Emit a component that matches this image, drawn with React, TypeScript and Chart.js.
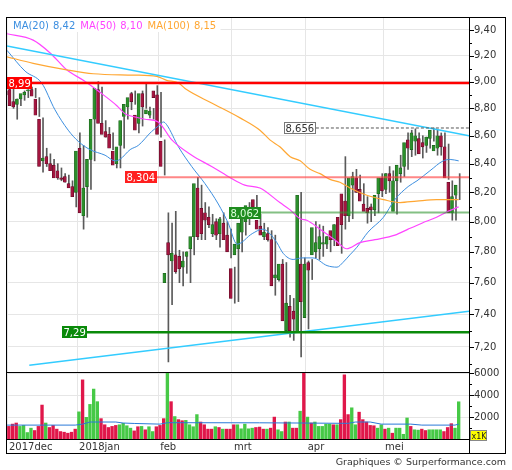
import React, { useEffect, useRef } from "react";
import { Chart, registerables } from "chart.js";

Chart.register(...registerables);

// ---------- data (Dec 2017 – May 2018, one entry per trading day) ----------
const opens = [
  8.93, 8.94, 8.85, 8.83, 8.87, 8.90, 8.93, 8.94, 8.87, 8.72,
  8.42, 8.45, 8.40, 8.39, 8.35, 8.30, 8.31, 8.26, 8.24, 8.20,
  8.51, 8.04, 8.24, 8.43, 8.72, 8.94, 8.69, 8.63, 8.61, 8.49,
  8.40, 8.53, 8.74, 8.81, 8.91, 8.75, 8.69, 8.91, 8.76, 8.75,
  8.93, 8.90, 8.56, 7.60, 7.86, 7.74, 7.78, 7.77, 7.70, 7.77,
  7.82, 7.90, 8.23, 8.09, 8.06, 8.03, 7.92, 8.00, 7.92, 7.99,
  7.91, 7.69, 7.78, 7.82, 7.93, 8.00, 8.05, 8.15, 8.01, 7.97,
  7.90, 7.92, 7.88, 7.63, 7.62, 7.72, 7.30, 7.45, 7.42, 7.29,
  7.72, 7.38, 7.73, 7.78, 7.80, 7.82, 7.85, 7.85, 7.94, 7.88,
  8.03, 8.19, 8.14, 8.04, 8.25, 8.30, 8.22, 8.12, 8.09, 8.10,
  8.08, 8.19, 8.30, 8.22, 8.33, 8.07, 8.28, 8.33, 8.38, 8.57,
  8.50, 8.56, 8.58, 8.55, 8.53, 8.58, 8.49, 8.51, 8.60, 8.52,
  8.27, 8.06, 8.18,
];
const highs = [
  8.97, 8.97, 8.87, 8.89, 8.93, 8.94, 8.96, 8.95, 8.88, 8.73,
  8.51, 8.47, 8.43, 8.40, 8.37, 8.33, 8.32, 8.28, 8.26, 8.62,
  8.53, 8.25, 8.46, 8.79, 9.00, 8.96, 8.71, 8.66, 8.62, 8.51,
  8.54, 8.74, 8.86, 8.92, 8.93, 8.79, 8.93, 8.98, 8.81, 8.80,
  8.97, 8.92, 8.57, 8.06, 7.99, 8.07, 7.81, 7.80, 7.80, 7.87,
  8.00, 8.304, 8.25, 8.13, 8.10, 8.05, 8.02, 8.03, 8.06, 8.00,
  7.95, 7.70, 7.87, 8.02, 8.07, 8.13, 8.13, 8.18, 8.05, 7.99,
  7.96, 7.94, 7.91, 7.67, 7.75, 7.73, 7.52, 7.50, 7.44, 8.20,
  7.76, 7.74, 7.75, 8.00, 7.98, 7.97, 7.90, 7.93, 7.98, 8.02,
  8.05, 8.45, 8.18, 8.34, 8.36, 8.32, 8.26, 8.17, 8.12, 8.17,
  8.24, 8.33, 8.33, 8.38, 8.35, 8.30, 8.46, 8.40, 8.62, 8.64,
  8.65, 8.62, 8.60, 8.59, 8.62, 8.656, 8.64, 8.62, 8.62, 8.54,
  8.28, 8.19, 8.33,
];
const lows = [
  8.87, 8.80, 8.72, 8.82, 8.86, 8.88, 8.90, 8.88, 8.74, 8.34,
  8.38, 8.36, 8.33, 8.29, 8.28, 8.27, 8.26, 8.21, 8.10, 8.18,
  7.95, 8.03, 8.22, 8.42, 8.70, 8.67, 8.59, 8.57, 8.50, 8.37,
  8.37, 8.51, 8.72, 8.79, 8.83, 8.62, 8.67, 8.80, 8.73, 8.72,
  8.78, 8.59, 8.32, 7.11, 7.46, 7.66, 7.60, 7.58, 7.66, 7.60,
  7.78, 7.88, 7.88, 7.88, 7.96, 7.90, 7.88, 7.83, 7.90, 7.84,
  7.76, 7.47, 7.48, 7.80, 7.91, 7.98, 8.03, 8.04, 7.92, 7.88,
  7.87, 7.85, 7.52, 7.61, 7.60, 7.30, 7.26, 7.24, 7.35, 7.14,
  7.46, 7.31, 7.62, 7.76, 7.75, 7.77, 7.82, 7.80, 7.84, 7.86,
  7.79, 7.95, 8.00, 8.02, 8.20, 8.18, 8.12, 7.99, 8.00, 8.04,
  8.06, 8.17, 8.19, 8.20, 8.24, 8.05, 8.27, 8.31, 8.36, 8.45,
  8.46, 8.50, 8.44, 8.48, 8.51, 8.56, 8.46, 8.46, 8.48, 8.29,
  8.01, 8.01, 8.15,
];
const closes = [
  8.90, 8.82, 8.81, 8.87, 8.91, 8.92, 8.935, 8.89, 8.75, 8.38,
  8.44, 8.40, 8.35, 8.30, 8.30, 8.29, 8.27, 8.23, 8.17, 8.49,
  8.06, 8.23, 8.43, 8.72, 8.95, 8.69, 8.61, 8.59, 8.51, 8.39,
  8.52, 8.71, 8.83, 8.88, 8.85, 8.64, 8.91, 8.81, 8.79, 8.78,
  8.88, 8.61, 8.38, 7.66, 7.78, 7.79, 7.67, 7.69, 7.74, 7.80,
  7.90, 8.26, 7.90, 7.92, 8.01, 7.98, 7.98, 7.91, 8.02, 7.88,
  7.80, 7.50, 7.85, 7.99, 8.05, 8.11, 8.09, 8.10, 7.95, 7.91,
  7.93, 7.88, 7.58, 7.65, 7.72, 7.36, 7.47, 7.30, 7.37, 8.18,
  7.48, 7.72, 7.68, 7.96, 7.86, 7.90, 7.86, 7.90, 7.88, 7.98,
  7.84, 7.98, 8.04, 8.30, 8.31, 8.20, 8.14, 8.07, 8.06, 8.08,
  8.18, 8.30, 8.21, 8.33, 8.28, 8.28, 8.39, 8.37, 8.55, 8.51,
  8.62, 8.60, 8.47, 8.52, 8.59, 8.64, 8.53, 8.60, 8.52, 8.30,
  8.06, 8.17, 8.25,
];
// volume in thousands of shares
const volumes = [
  1150, 1360, 1460, 1150, 1240, 590, 990, 775, 1150, 3100,
  1460, 1050, 1240, 900, 680, 620, 530, 620, 900, 2480,
  5400, 1980, 3160, 4560, 3410, 1860, 1300, 1050, 1150, 1240,
  1300, 1430, 1210, 990, 740, 1120, 1150, 840, 1120, 680,
  1120, 1240, 1860, 6300, 3410, 2050, 1770, 1670, 1700, 1300,
  1120, 2230, 1550, 1300, 900, 900, 1120, 1050, 900, 900,
  900, 1300, 1300, 930, 1360, 930, 990, 1050, 1090, 900,
  900, 990, 2000, 840, 680, 1550, 1550, 990, 990, 2540,
  6000, 2000, 1460, 1550, 1150, 1150, 1360, 1360, 1300, 1300,
  1770, 5860, 2230, 2850, 1300, 2450, 1770, 1550, 1240, 1210,
  990, 1300, 900, 990, 530, 990, 990, 430, 1920, 1150,
  840, 810, 900, 775, 840, 840, 840, 840, 680, 1050,
  1400, 990, 3400,
];

// month starts (trading-day index) and their labels
const monthStartIndex = [0, 19, 41, 61, 81, 102];
const monthLabels = ["2017dec", "2018jan", "feb", "mrt", "apr", "mei"];

// axis ticks
const priceTicks = [
  7.1, 7.2, 7.3, 7.4, 7.5, 7.6, 7.7, 7.8, 7.9, 8.0, 8.1, 8.2, 8.3,
  8.4, 8.5, 8.6, 8.7, 8.8, 8.9, 9.0, 9.1, 9.2, 9.3, 9.4, 9.5,
];
const volumeTicks = [1000, 2000, 3000, 4000, 5000, 6000];

// moving averages (index, value)
const ma20X = [-0.5, 4.4, 8.9, 12.5, 16.1, 18.8, 22, 26.1, 28.8, 30.1, 32.9, 35.1, 38.7, 41, 41.9, 42.8, 46, 49.6, 53.2, 56.8, 59.5, 61.9, 66, 68.9, 70.8, 72.7, 74.4, 77.1, 79.5, 82.5, 86.3, 89, 90.6, 92.5, 94.4, 97.4, 101.6, 104.7, 108.3, 110.7, 114.2, 117.8, 119.7, 122];
const ma20Y = [9.24, 9.08, 8.99, 8.79, 8.64, 8.56, 8.50, 8.46, 8.42, 8.43, 8.50, 8.53, 8.63, 8.68, 8.70, 8.68, 8.52, 8.38, 8.26, 8.12, 7.99, 7.85, 7.92, 7.95, 7.92, 7.86, 7.79, 7.75, 7.76, 7.76, 7.71, 7.70, 7.73, 7.78, 7.83, 7.93, 8.03, 8.15, 8.24, 8.28, 8.35, 8.42, 8.43, 8.42];
const ma50X = [-0.5, 6.6, 11.2, 15.7, 20.2, 24.7, 29.3, 31.5, 33.7, 36.9, 40.5, 44.2, 49.6, 55, 59.5, 64, 68.1, 73.5, 76.3, 79, 80.8, 84.4, 88.9, 91.6, 95.2, 99.3, 104.7, 108.3, 112, 116, 119.1, 122];
const ma50Y = [9.37, 9.32, 9.22, 9.09, 9.01, 8.92, 8.82, 8.76, 8.74, 8.72, 8.70, 8.57, 8.46, 8.38, 8.31, 8.25, 8.23, 8.13, 8.08, 8.02, 8.01, 7.95, 7.87, 7.82, 7.86, 7.88, 7.91, 7.95, 7.99, 8.03, 8.07, 8.10];
const ma100X = [-0.5, 6.6, 15.7, 22.9, 33.8, 40.1, 42.8, 46, 48.2, 55, 62.7, 68.1, 70.8, 73.5, 76.3, 79, 81.7, 84.4, 87.1, 89.8, 92.5, 97.1, 101.6, 106.1, 110.6, 116, 122];
const ma100Y = [9.19, 9.14, 9.09, 9.06, 9.05, 9.04, 9.01, 8.99, 8.94, 8.84, 8.73, 8.64, 8.57, 8.52, 8.45, 8.42, 8.36, 8.33, 8.29, 8.27, 8.23, 8.18, 8.15, 8.13, 8.14, 8.15, 8.15];
const volMaX = [-0.5, 18, 20, 22, 29, 31, 34, 41, 43, 68, 79, 92, 94, 98, 101, 109, 112, 121, 122];
const volMaY = [1270, 1270, 1360, 1550, 1550, 1460, 1420, 1360, 1490, 1480, 1460, 1430, 1550, 1550, 1360, 1360, 1270, 1270, 1360];

// trend lines (index, price)
const upperTrendX = [-0.5, 124.8];
const upperTrendY = [9.275, 8.6];
const lowerTrendX = [5.55, 124.8];
const lowerTrendY = [7.09, 7.42];

// horizontal support / resistance levels
const levelValues = [8.99, 8.304, 8.062, 7.29, 8.656];
const levelStartIndex = [-0.5, 31.5, 59.7, 14.4, 74.6];

// ---------- styles ----------
const FONT = '10px "DejaVu Sans"';
const RED_BODY = "#a3153f";
const GREEN_BODY = "#2b8f2b";
const RED_VOL = "#e0174a";
const GREEN_VOL = "#46c946";
const MA_COLORS = ["#3d8fe0", "#ff44ff", "#ffa733"];
const levelStyles = [
  { line: "#ff0000", width: 2.5, box: "#ff0000", text: "#ffffff" },
  { line: "rgba(255,70,70,0.65)", width: 2, box: "#ff1f1f", text: "#ffffff" },
  { line: "rgba(50,150,50,0.6)", width: 2, box: "#1e8c1e", text: "#dcffdc" },
  { line: "#0a8a0a", width: 2.5, box: "#0a8a0a", text: "#ffffff" },
  { line: "#555555", width: 1, dash: [3, 2], box: "#ffffff", text: "#333333", border: "#777777" },
];

const comma = (s: string) => s.replace(".", ",");
const isMajorPrice = (v: number) => Math.abs(v * 5 - Math.round(v * 5)) < 1e-6;
const pts = (xs: number[], ys: number[]) => xs.map((x, i) => ({ x, y: ys[i] }));

const panelClip = {
  id: "panelClip",
  beforeDatasetDraw(chart: any, args: any) {
    const ds = chart.data.datasets[args.index];
    const sc = chart.scales[ds.yAxisID || "y"];
    const ca = chart.chartArea;
    const ctx = chart.ctx;
    ctx.save();
    ctx.beginPath();
    ctx.rect(ca.left, sc.top, ca.right - ca.left, sc.bottom - sc.top);
    ctx.clip();
  },
  afterDatasetDraw(chart: any) {
    chart.ctx.restore();
  },
};

const overlay = {
  id: "overlay",
  beforeDraw(chart: any) {
    const ctx = chart.ctx;
    ctx.save();
    ctx.fillStyle = "#ffffff";
    ctx.fillRect(0, 0, chart.width, chart.height);
    ctx.restore();
  },
  afterDatasetsDraw(chart: any) {
    const ctx = chart.ctx;
    const xs = chart.scales.x;
    const ys = chart.scales.y;
    ctx.save();
    ctx.font = FONT;
    levelValues.forEach((v, i) => {
      const st: any = levelStyles[i];
      const py = ys.getPixelForValue(v);
      const px0 = Math.max(xs.getPixelForValue(levelStartIndex[i]), xs.left - 1);
      const label = comma(String(v));
      const tw = ctx.measureText(label).width;
      const bw = Math.round(tw + 3);
      const bh = 12;
      ctx.save();
      ctx.beginPath();
      ctx.rect(xs.left, ys.top, xs.right - xs.left, ys.bottom - ys.top);
      ctx.clip();
      ctx.strokeStyle = st.line;
      ctx.lineWidth = st.width;
      ctx.setLineDash(st.dash || []);
      ctx.beginPath();
      ctx.moveTo(px0 + bw, py);
      ctx.lineTo(xs.right, py);
      ctx.stroke();
      ctx.restore();
      const by = Math.round(py - bh / 2);
      ctx.fillStyle = st.box;
      ctx.fillRect(Math.round(px0), by, bw, bh);
      if (st.border) {
        ctx.strokeStyle = st.border;
        ctx.lineWidth = 1;
        ctx.strokeRect(Math.round(px0) + 0.5, by + 0.5, bw - 1, bh - 1);
      }
      ctx.fillStyle = st.text;
      ctx.textAlign = "left";
      ctx.textBaseline = "alphabetic";
      ctx.fillText(label, Math.round(px0) + 1.5, by + 10);
    });
    ctx.restore();
  },
  afterDraw(chart: any) {
    const ctx = chart.ctx;
    const ca = chart.chartArea;
    const ys = chart.scales.y;
    const yv = chart.scales.yv;
    ctx.save();
    // frame
    ctx.strokeStyle = "#000";
    ctx.lineWidth = 1;
    ctx.strokeRect(6.5, 17.5, 499, 436);
    ctx.beginPath();
    ctx.moveTo(6, Math.round(yv.top) + 0.5);
    ctx.lineTo(ca.right, Math.round(yv.top) + 0.5);
    ctx.moveTo(6, Math.round(ca.bottom) + 0.5);
    ctx.lineTo(ca.right, Math.round(ca.bottom) + 0.5);
    ctx.moveTo(Math.round(ca.right) + 0.5, 17);
    ctx.lineTo(Math.round(ca.right) + 0.5, 453);
    ctx.stroke();
    // tick marks
    const ax = Math.round(ca.right) + 0.5;
    ctx.beginPath();
    priceTicks.forEach((v) => {
      const py = Math.round(ys.getPixelForValue(v)) + 0.5;
      if (py < ys.top || py > ys.bottom) return;
      ctx.moveTo(ax, py);
      ctx.lineTo(ax + (isMajorPrice(v) ? 4.5 : 2.5), py);
    });
    volumeTicks.forEach((v) => {
      const py = Math.round(yv.getPixelForValue(v)) + 0.5;
      ctx.moveTo(ax, py);
      ctx.lineTo(ax + (v % 2000 === 0 ? 4.5 : 2.5), py);
    });
    ctx.stroke();
    // legend
    ctx.fillStyle = "#ffffff";
    ctx.fillRect(ca.left + 0.5, 18, 213, 14);
    ctx.font = FONT;
    ctx.textAlign = "left";
    ctx.textBaseline = "alphabetic";
    const items = [
      ["MA(20)", ma20Y[ma20Y.length - 1]],
      ["MA(50)", ma50Y[ma50Y.length - 1]],
      ["MA(100)", ma100Y[ma100Y.length - 1]],
    ];
    let lx = 13;
    items.forEach((it, i) => {
      ctx.fillStyle = MA_COLORS[i];
      const name = it[0] as string;
      ctx.fillText(name, lx, 29);
      lx += ctx.measureText(name).width + 4;
      const val = comma((it[1] as number).toFixed(2));
      ctx.fillText(val, lx, 29);
      lx += ctx.measureText(val).width + 5;
    });
    // x1K badge
    ctx.fillStyle = "#ffff00";
    ctx.fillRect(470, 430, 17, 11);
    ctx.strokeStyle = "#888";
    ctx.strokeRect(470.5, 430.5, 16, 10);
    ctx.fillStyle = "#222";
    ctx.font = '8px "DejaVu Sans"';
    ctx.fillText("x1K", 471.5, 439);
    // attribution
    ctx.fillStyle = "#333";
    ctx.font = '9.5px "DejaVu Sans"';
    ctx.textAlign = "right";
    ctx.fillText("Graphiques \u00A9 Surperformance.com", 506, 465);
    ctx.restore();
  },
};

export default function App() {
  const ref = useRef<HTMLCanvasElement | null>(null);

  useEffect(() => {
    if (!ref.current) return;
    const idx = opens.map((_, i) => i);
    const up = idx.map((i) => closes[i] >= opens[i]);
    const chart = new Chart(ref.current, {
      type: "bar",
      data: {
        datasets: [
          {
            type: "line",
            label: "trend-up",
            data: pts(upperTrendX, upperTrendY),
            yAxisID: "y",
            borderColor: "#33ccff",
            borderWidth: 1.5,
            pointRadius: 0,
            order: 1,
          } as any,
          {
            type: "line",
            label: "trend-low",
            data: pts(lowerTrendX, lowerTrendY),
            yAxisID: "y",
            borderColor: "#33ccff",
            borderWidth: 1.5,
            pointRadius: 0,
            order: 1,
          },
          {
            type: "line",
            label: "MA100",
            data: pts(ma100X, ma100Y),
            yAxisID: "y",
            borderColor: MA_COLORS[2],
            borderWidth: 1.2,
            pointRadius: 0,
            cubicInterpolationMode: "monotone",
            order: 1,
          },
          {
            type: "line",
            label: "MA50",
            data: pts(ma50X, ma50Y),
            yAxisID: "y",
            borderColor: MA_COLORS[1],
            borderWidth: 1.2,
            pointRadius: 0,
            cubicInterpolationMode: "monotone",
            order: 1,
          },
          {
            type: "line",
            label: "MA20",
            data: pts(ma20X, ma20Y),
            yAxisID: "y",
            borderColor: MA_COLORS[0],
            borderWidth: 1,
            pointRadius: 0,
            cubicInterpolationMode: "monotone",
            order: 1,
          },
          {
            type: "bar",
            label: "wick",
            data: idx.map((i) => ({ x: i, y: [lows[i], highs[i]] })),
            yAxisID: "y",
            backgroundColor: "#5a5a5a",
            barThickness: 1,
            order: 5,
          },
          {
            type: "bar",
            label: "body",
            data: idx.map((i) => ({ x: i, y: [opens[i], closes[i]] })),
            yAxisID: "y",
            backgroundColor: idx.map((i) => (up[i] ? GREEN_BODY : RED_BODY)),
            borderColor: idx.map((i) => (up[i] ? "#1b5e1b" : "#5e0a24")),
            borderWidth: 0.6,
            borderSkipped: false,
            barThickness: 3,
            minBarLength: 1,
            order: 4,
          },
          {
            type: "bar",
            label: "volume",
            data: idx.map((i) => ({ x: i, y: volumes[i] })),
            yAxisID: "yv",
            backgroundColor: idx.map((i) => (up[i] ? GREEN_VOL : RED_VOL)),
            barThickness: 2.7,
            order: 4,
          },
          {
            type: "line",
            label: "volMA",
            data: pts(volMaX, volMaY),
            yAxisID: "yv",
            borderColor: "#2a7ad8",
            borderWidth: 1,
            pointRadius: 0,
            order: 1,
          },
        ],
      },
      options: {
        animation: false,
        responsive: false,
        events: [],
        layout: { padding: { left: 7, right: 6, top: 17, bottom: 17 } },
        plugins: { legend: { display: false }, tooltip: { enabled: false } },
        scales: {
          x: {
            type: "linear",
            min: -0.5,
            max: 124.8,
            offset: false,
            position: "bottom",
            border: { display: false },
            grid: { color: "#e6e6e6", drawTicks: false, offset: false },
            afterBuildTicks: (s: any) => {
              s.ticks = monthStartIndex.map((m) => ({ value: m - 0.5 }));
            },
            afterFit: (s: any) => {
              s.height = 14;
            },
            ticks: {
              autoSkip: false,
              maxRotation: 0,
              align: "start",
              labelOffset: 2,
              padding: 2,
              color: "#333",
              font: { family: "DejaVu Sans", size: 10 },
              callback: (_v: any, i: number) => monthLabels[i],
            },
          },
          y: {
            type: "logarithmic",
            position: "right",
            stack: "panels",
            stackWeight: 355,
            min: 7.05,
            max: 9.503,
            border: { display: false },
            grid: {
              drawTicks: false,
              color: (c: any) => (c.tick && isMajorPrice(c.tick.value) ? "#e6e6e6" : "rgba(0,0,0,0)"),
            },
            afterBuildTicks: (s: any) => {
              s.ticks = priceTicks.map((v) => ({ value: v }));
            },
            afterFit: (s: any) => {
              s.width = 37;
            },
            ticks: {
              autoSkip: false,
              padding: 5,
              color: "#333",
              font: { family: "DejaVu Sans", size: 10 },
              callback: (v: any) => (isMajorPrice(Number(v)) ? comma(Number(v).toFixed(2)) : ""),
            },
          },
          yv: {
            type: "linear",
            position: "right",
            stack: "panels",
            stackWeight: 67,
            min: 0,
            max: 6120,
            border: { display: false },
            grid: {
              drawTicks: false,
              color: (c: any) => (c.tick && c.tick.value % 2000 === 0 ? "#e6e6e6" : "rgba(0,0,0,0)"),
            },
            afterBuildTicks: (s: any) => {
              s.ticks = volumeTicks.map((v) => ({ value: v }));
            },
            afterFit: (s: any) => {
              s.width = 37;
            },
            ticks: {
              autoSkip: false,
              padding: 5,
              color: "#333",
              font: { family: "DejaVu Sans", size: 10 },
              callback: (v: any) => (Number(v) % 2000 === 0 ? String(v) : ""),
            },
          },
        },
      } as any,
      plugins: [panelClip, overlay],
    });
    return () => chart.destroy();
  }, []);

  return (
    <div style={{ position: "absolute", left: 0, top: 0, width: 512, height: 470, background: "#fff" }}>
      <canvas ref={ref} width={512} height={470} style={{ width: 512, height: 470, display: "block" }} />
    </div>
  );
}
